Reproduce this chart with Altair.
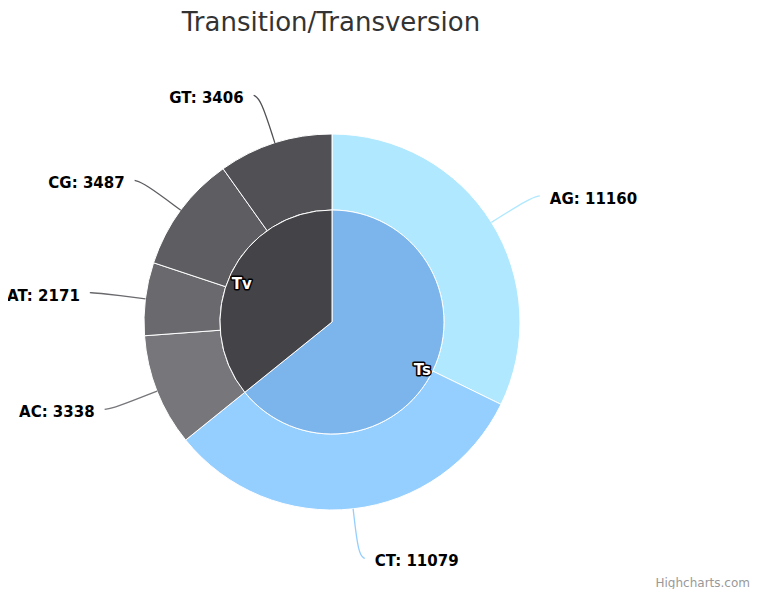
import altair as alt
import pandas as pd
import numpy as np

# ---- data ----
outer_labels = ["AG", "CT", "AC", "AT", "CG", "GT"]
outer_values = [11160, 11079, 3338, 2171, 3487, 3406]
inner_labels = ["Ts", "Tv"]
inner_values = [22239, 12402]
title_text = "Transition/Transversion"
credit_text = "Highcharts.com"

# ---- styles ----
outer_colors = ["#afe8ff", "#95cfff", "#76767b", "#69696e", "#5d5d62", "#505055"]
inner_colors = ["#7cb5ec", "#434348"]

W, H = 749, 581
CX, CY = 324, 314
R_OUT, R_IN = 188, 112
R_END = 238
R_INLABEL = 100

outer_df = pd.DataFrame({"label": outer_labels, "value": outer_values,
                         "order": list(range(len(outer_labels)))})
inner_df = pd.DataFrame({"label": inner_labels, "value": inner_values,
                         "order": list(range(len(inner_labels)))})


def mid_angles(values):
    v = np.array(values, dtype=float)
    cum = np.cumsum(v)
    return (cum - v / 2) / v.sum() * 2 * np.pi


a_out = mid_angles(outer_values)
a_in = mid_angles(inner_values)

# outer labels table (derived)
lab_rows = []
con_rows = []
for lab, val, a in zip(outer_labels, outer_values, a_out):
    side = 1 if a < np.pi else -1
    ex, ey = R_END * np.sin(a), R_END * np.cos(a)
    lab_rows.append({"label": lab, "text": f"{lab}: {val}",
                     "tx": ex + side * 16, "ty": ey - 3,
                     "side": "right" if side > 0 else "left"})
    pts = [(R_OUT * np.sin(a), R_OUT * np.cos(a)),
           ((R_END - 4) * np.sin(a), (R_END - 4) * np.cos(a)),
           (ex + side * 6, ey)]
    for k, (px, py) in enumerate(pts):
        con_rows.append({"label": lab, "k": k, "px": px, "py": py})
lab_df = pd.DataFrame(lab_rows)
con_df = pd.DataFrame(con_rows)

in_lab_df = pd.DataFrame({"text": inner_labels,
                          "tx": R_INLABEL * np.sin(a_in),
                          "ty": R_INLABEL * np.cos(a_in) - 5})

xs = alt.Scale(domain=[-CX, W - CX], nice=False, zero=False)
ys = alt.Scale(domain=[-(H - CY), CY], nice=False, zero=False)

outer_color = alt.Color("label:N", scale=alt.Scale(domain=outer_labels, range=outer_colors), legend=None)

arc_outer = alt.Chart(outer_df).mark_arc(
    outerRadius=R_OUT, innerRadius=R_IN, stroke="white", strokeWidth=1
).encode(
    theta=alt.Theta("value:Q", stack=True),
    color=outer_color,
    order=alt.Order("order:Q"),
    x=alt.value(CX), y=alt.value(CY),
)

arc_inner = alt.Chart(inner_df).mark_arc(
    outerRadius=R_IN, innerRadius=0, stroke="white", strokeWidth=1
).encode(
    theta=alt.Theta("value:Q", stack=True),
    color=alt.Color("label:N", scale=alt.Scale(domain=inner_labels, range=inner_colors), legend=None),
    order=alt.Order("order:Q"),
    x=alt.value(CX), y=alt.value(CY),
)

connectors = alt.Chart(con_df).mark_line(strokeWidth=1.3, interpolate="basis").encode(
    x=alt.X("px:Q", scale=xs, axis=None),
    y=alt.Y("py:Q", scale=ys, axis=None),
    detail="label:N",
    order="k:Q",
    color=outer_color,
)

lab_font = dict(font="DejaVu Sans", fontSize=15, fontWeight="bold", color="#000000", baseline="middle")
labels_right = alt.Chart(lab_df).transform_filter("datum.side == 'right'").mark_text(align="left", **lab_font).encode(
    x=alt.X("tx:Q", scale=xs, axis=None), y=alt.Y("ty:Q", scale=ys, axis=None), text="text:N")
labels_left = alt.Chart(lab_df).transform_filter("datum.side == 'left'").mark_text(align="right", **lab_font).encode(
    x=alt.X("tx:Q", scale=xs, axis=None), y=alt.Y("ty:Q", scale=ys, axis=None), text="text:N")

in_outline = alt.Chart(in_lab_df).mark_text(
    font="DejaVu Sans", fontSize=15, fontWeight="bold", align="center", baseline="middle",
    color="#000000", stroke="#000000", strokeWidth=3, strokeJoin="round"
).encode(x=alt.X("tx:Q", scale=xs, axis=None), y=alt.Y("ty:Q", scale=ys, axis=None), text="text:N")
in_fill = alt.Chart(in_lab_df).mark_text(
    font="DejaVu Sans", fontSize=15, fontWeight="bold", align="center", baseline="middle",
    color="#ffffff"
).encode(x=alt.X("tx:Q", scale=xs, axis=None), y=alt.Y("ty:Q", scale=ys, axis=None), text="text:N")

title = alt.Chart(pd.DataFrame({"t": [title_text]})).mark_text(
    font="DejaVu Sans", fontSize=26, color="#333333", align="center", baseline="alphabetic"
).encode(x=alt.value(323), y=alt.value(23), text="t:N")

credit = alt.Chart(pd.DataFrame({"t": [credit_text]})).mark_text(
    font="DejaVu Sans", fontSize=12, color="#999999", align="right", baseline="alphabetic"
).encode(x=alt.value(742), y=alt.value(579), text="t:N")

chart = alt.layer(
    arc_outer, arc_inner, connectors, labels_right, labels_left, in_outline, in_fill, title, credit
).resolve_scale(theta="independent", color="independent").properties(
    width=W, height=H, autosize=alt.AutoSizeParams(type="none"), padding=0, background="white"
).configure_view(stroke=None, strokeWidth=0)

chart.save("out.html", embed_options={"renderer": "svg", "actions": False})
